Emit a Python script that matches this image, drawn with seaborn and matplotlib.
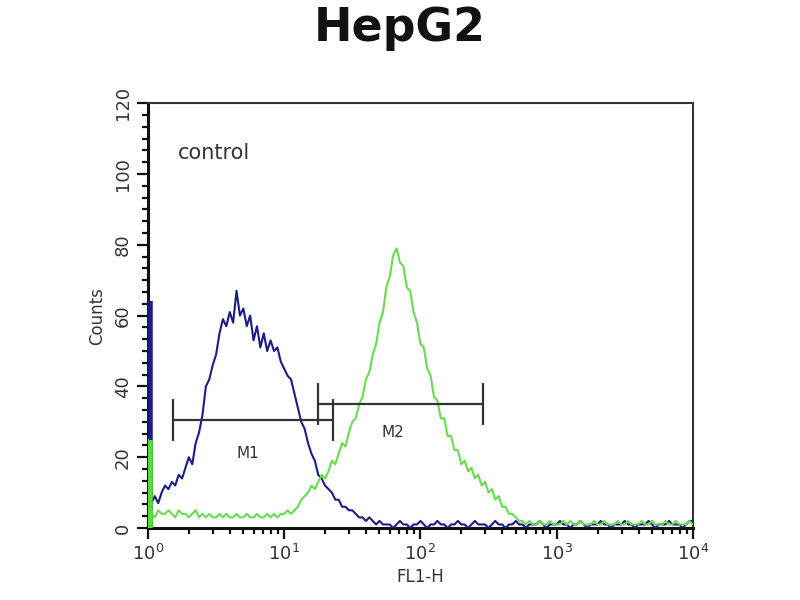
import matplotlib
matplotlib.use("Agg")
import matplotlib.pyplot as plt
from matplotlib.ticker import LogLocator, MultipleLocator, NullFormatter
import seaborn as sns
import numpy as np
import pandas as pd

sns.set_theme(style="ticks")
plt.rcParams["font.family"] = ["DejaVu Sans"]

# channel grid: log10(FL1-H) from 0 to 4, step 0.025
log_channels = np.arange(0, 4.0001, 0.025)

# control histogram (blue)
control_counts = [
    64, 7, 9, 7, 10, 12, 11, 13, 12, 15, 14, 17, 20, 18, 24, 27, 32, 40, 42, 46,
    49, 55, 59, 57, 61, 58, 67, 60, 62, 57, 60, 53, 57, 51, 55, 50, 53, 50, 51, 47,
    45, 43, 42, 38, 34, 30, 28, 24, 21, 19, 15, 14, 12, 11, 10, 8, 8, 6, 6, 5,
    5, 4, 3, 3, 2, 3, 2, 1, 2, 1,
    1, 1, 0, 1, 2, 1, 1, 0, 1, 1, 2, 1, 0, 1, 1, 2, 1, 1, 0, 1,
    1, 2, 1, 1, 0, 1, 2, 1, 1, 1, 0, 1, 2, 1, 1, 0, 1, 1, 2, 1,
    1, 0, 1, 1, 1, 2, 1, 0, 1, 1, 1, 2, 1, 1, 0, 1, 1, 2, 1, 0,
    1, 1, 1, 2, 1, 1, 0, 1, 1, 1, 2, 1, 1, 0, 1, 1, 1, 2, 1, 0,
    1, 1, 1, 2, 1, 1, 1, 0, 1, 2, 2,
]

# antibody histogram (green)
sample_counts = [
    25, 4, 3, 5, 4, 4, 5, 4, 3, 5, 4, 4, 3, 4, 5, 3, 4, 3, 4, 3,
    3, 4, 3, 4, 3, 3, 4, 3, 3, 4, 3, 3, 4, 3, 3, 4, 3, 4, 3, 4,
    4, 5, 4, 5, 6, 8, 9, 10, 12, 11, 13, 15, 14, 16, 19, 18, 21, 24, 23, 27,
    30, 31, 35, 37, 42, 44, 49, 52, 58, 61, 68, 71, 77, 79, 75, 74, 68, 67, 61, 58,
    52, 51, 45, 43, 37, 36, 31, 31, 26, 26, 22, 22, 18, 19, 16, 17, 14, 15, 12, 13,
    10, 11, 8, 9, 6, 6, 4, 4, 3, 2, 2,
    1, 2, 1, 1, 2, 1, 1, 2, 1, 1, 1, 2, 1, 2, 1, 1, 2, 1, 1, 1,
    2, 1, 1, 2, 1, 1, 1, 2, 1, 1, 2, 1, 1, 1, 2, 1, 1, 2, 1, 1,
    1, 2, 1, 1, 2, 1, 1, 1, 2, 1,
]

# gates
gate_names = ["M1", "M2"]
gate_left = [1.52, 17.7]
gate_right = [22.8, 288]
gate_level = [30.5, 35]
gate_label_x = [5.4, 63]
gate_label_y = [21, 27]

df = pd.DataFrame({
    "FL1-H": 10 ** log_channels,
    "control": control_counts,
    "sample": sample_counts,
})

fig = plt.figure(figsize=(8, 6), dpi=100)
ax = fig.add_axes([0.185, 0.12, 0.681, 0.708])

sns.lineplot(data=df, x="FL1-H", y="control", ax=ax, color="#1c1c88",
             linewidth=1.5, zorder=3)
sns.lineplot(data=df, x="FL1-H", y="sample", ax=ax, color="#66dd4f",
             linewidth=1.5, zorder=4)
# left-edge pile-up bars (first channel)
edge_x = df["FL1-H"].iloc[0] * 1.035
ax.vlines(edge_x, 0, control_counts[0], color="#1c1c88", linewidth=4, zorder=3)
ax.vlines(edge_x, 0, sample_counts[0], color="#55dd33", linewidth=4, zorder=4)

for name, lo, hi, lvl, lx, ly in zip(gate_names, gate_left, gate_right,
                                     gate_level, gate_label_x, gate_label_y):
    ax.hlines(lvl, lo, hi, color="#333333", linewidth=1.6, zorder=5)
    ax.vlines([lo, hi], lvl - 6, lvl + 6, color="#333333", linewidth=1.6, zorder=5)
    ax.text(lx, ly, name, ha="center", va="center", fontsize=11, color="#333333")

ax.text(1.66, 106, "control", ha="left", va="center", fontsize=15, color="#333333")

ax.set_xscale("log")
ax.set_xlim(1, 1e4)
ax.set_ylim(0, 120)
ax.xaxis.set_major_locator(LogLocator(base=10, numticks=10))
ax.xaxis.set_minor_locator(LogLocator(base=10, subs=np.arange(2, 10), numticks=10))
ax.xaxis.set_minor_formatter(NullFormatter())
ax.yaxis.set_major_locator(MultipleLocator(20))
ax.yaxis.set_minor_locator(MultipleLocator(20 / 6))

ax.tick_params(axis="both", which="major", direction="out", length=8, width=1.6,
               color="#111111", labelsize=13, labelcolor="#333333")
ax.tick_params(axis="both", which="minor", direction="out", length=4, width=1.6,
               color="#111111")
for lab in ax.get_yticklabels():
    lab.set_rotation(90)
    lab.set_va("center")

for side in ["left", "bottom"]:
    ax.spines[side].set_linewidth(2.2)
    ax.spines[side].set_color("#111111")
for side in ["top", "right"]:
    ax.spines[side].set_linewidth(1.5)
    ax.spines[side].set_color("#333333")

ax.set_xlabel("FL1-H", fontsize=12, color="#333333", labelpad=3)
ax.set_ylabel("Counts", fontsize=12, color="#333333", labelpad=6)

fig.text(0.5, 0.953, "HepG2", ha="center", va="center", fontsize=33,
         fontweight="bold", color="#111111")

fig.savefig("out.png", dpi=100)
